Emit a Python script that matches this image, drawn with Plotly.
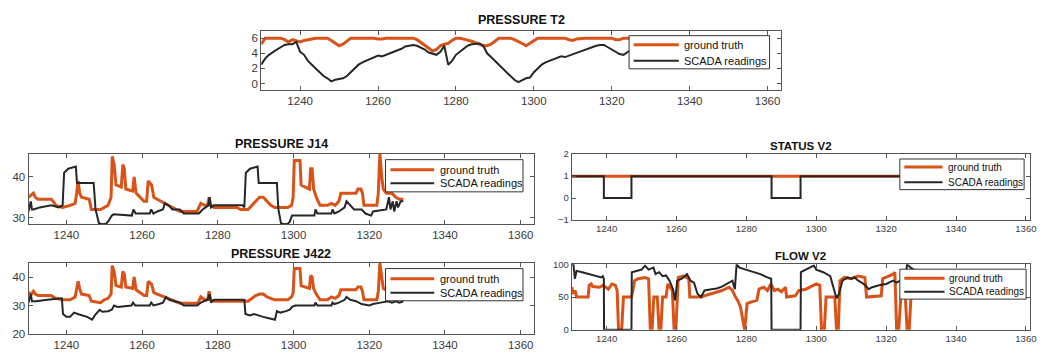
import plotly.graph_objects as go

W, H = 1051, 358

# ---------------- data ----------------
t2_x = list(range(1230, 1330))
t2_truth = [5.2,6.0,6.0,6.0,6.0,6.0,5.8,5.5,5.8,5.6,5.5,5.7,5.8,6.0,6.0,6.0,6.0,6.0,5.7,5.3,5.0,5.2,5.6,6.0,6.0,6.0,6.0,6.0,6.0,6.0,
            5.9,5.9,6.0,6.0,6.0,6.0,6.0,6.0,6.0,6.0,5.8,5.4,5.0,4.6,4.3,4.5,5.0,5.2,5.3,5.7,6.0,6.0,5.9,5.8,5.6,5.4,5.2,5.0,5.0,5.2,
            5.6,6.0,6.0,6.0,6.0,5.8,5.6,5.3,5.0,5.3,5.7,6.0,6.0,6.0,6.0,6.0,6.0,6.0,6.0,5.8,5.7,5.9,6.0,6.0,6.0,6.0,6.0,6.0,6.0,6.0,
            6.0,5.8,5.8,6.0,6.0,6.0,6.0,6.0,6.0,6.0]
t2_scada = [2.5,3.3,3.8,4.2,4.5,4.8,5.1,5.2,5.2,5.5,4.2,3.8,3.0,2.5,2.0,1.5,1.0,0.7,0.3,0.5,0.6,0.7,1.0,1.5,2.0,2.5,2.8,3.0,3.3,3.5,
            3.7,3.6,3.8,3.9,4.2,4.4,4.6,4.9,5.0,5.1,5.0,4.8,4.5,4.1,3.9,3.8,4.2,5.0,2.5,3.0,3.8,4.2,4.6,5.0,5.2,5.3,5.3,5.0,4.0,3.5,
            3.0,2.5,2.0,1.5,1.0,0.5,0.2,0.5,0.7,0.8,1.5,2.0,2.5,2.8,3.0,3.2,3.4,3.6,3.5,3.7,3.8,4.0,4.2,4.5,4.7,4.9,5.0,5.1,5.1,4.8,
            4.5,4.2,3.9,3.8,4.2,4.5,4.7,4.9,5.0,5.0]

j14_truth = [(1230,35),(1230.8,35.5),(1231.3,36),(1231.8,35),(1232.5,34.5),(1236,34.5),(1236.5,34),(1237.2,33),(1239,32.5),
             (1241,33),(1242.3,33.5),(1242.7,36),(1243.1,39),(1243.5,36),(1244,35),(1246,34.5),(1246.6,32),(1249,32),(1250,32.5),
             (1251,33),(1251.8,35),(1252.1,45),(1252.6,43),(1253.1,38),(1254.5,37.5),(1254.9,43),(1255.3,42),(1255.7,37),
             (1257.5,36.5),(1257.9,40),(1258.4,36),(1259.5,35),(1260.5,34),(1261.2,34),(1261.6,39),(1262.5,38),(1263.1,35),
             (1264,34.5),(1265,34),(1266,33.5),(1267,33),(1268,32.5),(1269,32),(1270,31.5),(1274.5,31.5),(1275,32.5),
             (1275.5,33.5),(1276.5,33),(1277.3,33),(1277.7,35),(1278.1,33),(1279,32.5),(1285,32.5),(1286,32),(1288,32),
             (1289,33),(1290,34),(1291,35),(1292,35),(1293,34),(1294,33),(1295,32.5),(1298.5,32.5),(1299.5,33),(1299.9,35),
             (1300.2,44),(1301.7,44),(1302,38),(1304.2,37),(1304.5,42),(1304.9,42),(1305.3,37),(1306,35),(1307,33),(1309,33),
             (1310,33.5),(1311,33),(1312,34),(1312.5,36),(1316.5,36),(1317,37),(1317.8,37),(1318.2,36),(1318.6,33),(1322,33),
             (1322.4,36),(1322.8,45.7),(1323.3,40),(1323.7,37),(1324.5,36),(1326,36),(1327,35),(1328,34.5),(1329,34.5)]
j14_scada = [(1230,31.5),(1230.6,34),(1230.9,32),(1231.3,32),(1233,32.5),(1236,33),(1238,32.5),(1239,33),(1239.4,41),
             (1240.5,42),(1242.5,42.5),(1242.8,38.5),(1247.2,38.5),(1247.7,32),(1248.6,28.6),(1249.5,28.4),(1250.5,28.5),
             (1251,29),(1252,30.5),(1252.5,30.8),(1257.3,30.5),(1257.7,32),(1258.3,31),(1262,31),(1262.4,32),(1263,31),
             (1264,31.5),(1265.5,32),(1266,33.5),(1267,33),(1268,32),(1270,32),(1271,31),(1275,31),(1276,32),(1277.5,33),
             (1277.8,35),(1278.2,32.5),(1279,33),(1286.5,33),(1287,32.5),(1287.4,41),(1288.5,42),(1290.5,42.5),(1290.8,38.5),
             (1295.6,38.5),(1296,32),(1296.7,28.6),(1297.5,28.4),(1298.5,28.5),(1299,29),(1299.6,30.5),(1305.5,30.5),
             (1305.8,32),(1306.3,31),(1310,31),(1310.3,32),(1310.8,31),(1312,31.5),(1313.5,32.5),(1314,34),(1315,33),
             (1316,32),(1318,32),(1319,31),(1320.5,30.5),(1321,31.5),(1324.5,32),(1325.2,35),(1325.6,32),(1326.2,34),
             (1326.6,31.5),(1327.2,34),(1327.6,32.5),(1328.3,34),(1329,34)]

j422_truth = [(1230,34.5),(1230.8,34),(1231.3,35),(1231.8,34),(1232.5,33.5),(1236,33.5),(1236.5,33),(1237.2,32.5),(1239,32),
              (1241,32),(1242.3,33),(1242.7,36),(1243.1,38.5),(1243.5,36),(1244,34),(1246,33.5),(1246.6,31.5),(1249,31),
              (1250,32),(1251,32.5),(1251.8,34),(1252.1,44),(1252.6,42),(1253.1,37),(1254.5,36.5),(1254.9,42),(1255.3,41),
              (1255.7,36.5),(1257.5,36),(1257.9,40),(1258.4,35.5),(1259.5,34.5),(1260.5,33.5),(1261.2,33.5),(1261.6,38.5),
              (1262.5,37.5),(1263.1,34.5),(1264,34),(1265,33.5),(1266,33),(1267,32.5),(1268,32),(1269,31.5),(1270,30.8),
              (1274.5,30.8),(1275,31.5),(1275.5,33),(1276.5,32),(1277.3,32),(1277.7,35),(1278.1,32),(1279,31.5),(1288,31.5),
              (1289,32.5),(1290,33.5),(1291,34),(1292,34),(1293,33),(1294,32.5),(1295,32),(1298.5,32),(1299.5,33),
              (1299.9,34.5),(1300.2,43),(1301.7,43),(1302,37),(1304.2,36),(1304.5,40.5),(1304.9,40),(1305.3,36),(1306,34),
              (1307,32),(1309,32),(1310,33),(1311,32.5),(1312,33.5),(1312.5,35.5),(1316.5,35.5),(1317,36.5),(1317.8,36.5),
              (1318.2,35),(1318.6,32),(1322,32),(1322.4,35),(1322.8,45),(1323.3,39),(1323.7,36),(1324.5,35.5),(1326,35),
              (1327,34.5),(1328,34),(1329,34)]
j422_scada = [(1230,31),(1230.6,34),(1230.9,31.5),(1232,31.5),(1235,32),(1238.8,32.5),(1239.1,27),(1240,26),(1241,26),
              (1242,27.5),(1243,27),(1244,26.5),(1245.5,26),(1246.8,25),(1247.5,26.5),(1248.8,28.5),(1249.5,27.8),(1251,28),
              (1252,28.5),(1252.6,30),(1253.5,29.5),(1257.2,30),(1257.6,31),(1258.2,30),(1262,30),(1262.4,31),(1263,30),
              (1264.5,30.5),(1265.5,31),(1266.3,33),(1267.2,32),(1268.5,31.5),(1270,31),(1271,30),(1274.5,30),(1275.5,31),
              (1277.3,32),(1277.8,34),(1278.2,31),(1279,32),(1287,32),(1287.3,27),(1288.5,26.5),(1289.5,27),(1290.5,26.5),
              (1292,26),(1293.5,25.5),(1295.1,25),(1295.6,28),(1296.5,27.5),(1298,28),(1299,28.5),(1299.6,29.5),(1300.5,30),
              (1305.5,30),(1305.8,31),(1306.3,30),(1310,30),(1310.3,31),(1310.8,30.5),(1312,31),(1313.5,32),(1314,33),
              (1315,32),(1316.5,31.5),(1318,30.5),(1320,30),(1321,30.5),(1323,31),(1325,31.5),(1326,31),(1327,31.5),
              (1328,31),(1329,31.5)]

v2_truth = [(1230,1),(1329,1)]
v2_scada = [(1230,1),(1239.2,1),(1239.2,0),(1247.1,0),(1247.1,1),(1287.2,1),(1287.2,0),(1295.5,0),(1295.5,1),(1329,1)]

flow_truth = [(1230,65),(1230.5,55),(1231,60),(1231.4,50),(1234.7,50),(1235,68),(1235.6,70),(1236,66),(1238,65),(1239,68),
              (1240.5,62),(1241.5,70),(1242.5,68),(1243,60),(1243.4,0),(1244.3,0),(1244.8,50),(1247.1,50),(1247.5,60),
              (1248,75),(1249,78),(1251,80),(1252,78),(1252.5,0),(1253,0),(1253.5,50),(1254.5,50),(1255,0),(1255.5,0),
              (1256,50),(1257,50),(1257.5,70),(1258.8,60),(1259.3,0),(1259.8,0),(1260.5,80),(1262,82),(1263.5,78),
              (1263.8,50),(1267,50),(1268,52),(1270,55),(1272,58),(1273,60),(1275,65),(1276,60),(1276.9,50),(1277.5,45),
              (1278.3,35),(1279.5,0),(1280.2,40),(1281,42),(1283,45),(1283.6,62),(1285,65),(1286,60),(1287,70),(1288,60),
              (1289,62),(1290,58),(1291.2,65),(1291.5,50),(1294,52),(1295,60),(1297,62),(1298,65),(1300,70),(1301,68),
              (1301.5,0),(1302.3,0),(1302.8,50),(1305.3,50),(1305.8,0),(1306.3,0),(1306.8,75),(1308,80),(1310,78),
              (1312,82),(1313.9,80),(1314.4,50),(1318.6,52),(1319,78),(1320.5,82),(1322,85),(1322.5,88),(1323,0),
              (1323.6,0),(1324.2,50),(1325.5,50),(1326,0),(1326.6,0),(1327.2,60),(1329,62)]
flow_scada = [(1230,100),(1230.5,100),(1230.9,78),(1231.4,90),(1233,88),(1235,85),(1237,82),(1238.5,80),(1238.9,82),
              (1239.2,78),(1239.25,0),(1247.1,0),(1247.2,88),(1248.5,90),(1250,92),(1251,98),(1252,92),(1253.4,95),
              (1254,85),(1255,88),(1256,82),(1257,83),(1258,75),(1259,62),(1259.6,45),(1260.2,75),(1261.5,78),(1263,85),
              (1264,75),(1265,72),(1266,55),(1267,50),(1268,60),(1270,62),(1271.5,63),(1273,66),(1274.5,70),(1276,75),
              (1276.7,62),(1277.2,100),(1278,95),(1280,92),(1282,88),(1284,85),(1286,80),(1287.1,78),(1287.2,0),
              (1295.5,0),(1295.6,88),(1297,92),(1298.5,95),(1299.3,98),(1300,92),(1302,88),(1304,82),(1305,65),
              (1305.8,48),(1306.5,55),(1307.5,75),(1309,80),(1310,78),(1311,80),(1312,75),(1313,72),(1314,68),(1315,62),
              (1316,65),(1318,68),(1320,70),(1322,75),(1323,72),(1324,75),(1325.5,80),(1326,100),(1327,95),(1328,92),
              (1329,90)]

TITLES = ["PRESSURE T2", "PRESSURE J14", "PRESSURE J422", "STATUS V2", "FLOW V2"]
LABELS = ["ground truth", "SCADA readings"]
XTICKS = [1240, 1260, 1280, 1300, 1320, 1340, 1360]

# ---------------- styling ----------------
ORANGE = "#D95319"
DARK = "#262626"
FONT = "Liberation Sans, Arial"

def split(pairs):
    return [p[0] for p in pairs], [p[1] for p in pairs]

series = [((t2_x, t2_truth), (t2_x, t2_scada)),
          (split(j14_truth), split(j14_scada)),
          (split(j422_truth), split(j422_scada)),
          (split(v2_truth), split(v2_scada)),
          (split(flow_truth), split(flow_scada))]

boxes = [(262.7, 785.7, 26, 86.7),
         (28.7, 537, 152.7, 225.7),
         (28.7, 537, 265.7, 339.3),
         (575, 1036, 153.3, 221.5),
         (575, 1036, 267.3, 335)]
xmax = [1363.5, 1363.5, 1363.5, 1361.2, 1361.2]
yranges = [[-0.82, 6.93], [28.4, 45.7], [20, 45], [-1, 2], [0, 100]]
ytick = [[0, 2, 4, 6], [30, 40], [20, 30, 40], [-1, 0, 1, 2], [0, 50, 100]]
fs_tick = [11.5, 11.5, 11.5, 9.5, 9.5]
fs_title = [12.5, 12.5, 12.5, 11.5, 11.5]
fs_leg = [11, 11, 11, 10, 10]
titley = [15, 143.3, 256.7, 145.3, 258.6]
legends = [((632.7, 774, 30.7, 65), 637.3, 682.7, (40, 56.7), 685.7),
           ((387.7, 526, 159, 192.3), 392.7, 436.7, (169.3, 183.3), 440.7),
           ((387.7, 526, 271.7, 305), 392.7, 436.7, (282.3, 296.7), 440.7),
           ((905, 1030, 158.3, 190), 909.5, 948, (166.7, 182.3), 951),
           ((905, 1032, 272.3, 303.3), 909.5, 950, (281.7, 295.7), 952.7)]

fig = go.Figure()
shapes, annotations = [], []
layout = dict(width=W, height=H, margin=dict(l=0, r=0, t=0, b=0), paper_bgcolor="white",
              plot_bgcolor="white", showlegend=False)
for i, ((gx, gy), (sx, sy)) in enumerate(series):
    n = "" if i == 0 else str(i + 1)
    for xs, ys, col, wdt, lab in [(gx, gy, ORANGE, 3, LABELS[0]), (sx, sy, DARK, 2, LABELS[1])]:
        fig.add_trace(go.Scatter(x=xs, y=ys, mode="lines", name=lab,
                                 line=dict(color=col, width=wdt),
                                 xaxis="x" + n, yaxis="y" + n))
    l, r, t, b = boxes[i]
    axcommon = dict(showline=True, linecolor="#555", linewidth=1, mirror="ticks", ticks="inside",
                    ticklen=4, tickcolor="#555", showgrid=False, zeroline=False,
                    tickfont=dict(family=FONT, size=fs_tick[i], color="#3a3a3a"))
    layout["xaxis" + n] = dict(domain=[l / W, r / W], anchor="y" + n, range=[1230, xmax[i]],
                               tickvals=XTICKS, **axcommon)
    layout["yaxis" + n] = dict(domain=[1 - b / H, 1 - t / H], anchor="x" + n, range=yranges[i],
                               tickvals=ytick[i], **axcommon)
    annotations.append(dict(text="<b>%s</b>" % TITLES[i], x=(l + r) / 2 / W, y=1 - titley[i] / H,
                            xref="paper", yref="paper", showarrow=False, xanchor="center",
                            yanchor="middle", font=dict(family=FONT, size=fs_title[i], color="#111")))
    (bl, br, bt, bb), sx0, sx1, rows, tx = legends[i]
    shapes.append(dict(type="rect", xref="paper", yref="paper", x0=bl / W, x1=br / W,
                       y0=1 - bb / H, y1=1 - bt / H, fillcolor="white",
                       line=dict(color="#333", width=1), layer="above"))
    for (col, wdt, lab), ry in zip([(ORANGE, 3, LABELS[0]), (DARK, 2, LABELS[1])], rows):
        shapes.append(dict(type="line", xref="paper", yref="paper", x0=sx0 / W, x1=sx1 / W,
                           y0=1 - ry / H, y1=1 - ry / H, line=dict(color=col, width=wdt), layer="above"))
        annotations.append(dict(text=lab, x=tx / W, y=1 - ry / H, xref="paper", yref="paper",
                                showarrow=False, xanchor="left", yanchor="middle",
                                font=dict(family=FONT, size=fs_leg[i], color="#111")))
layout["shapes"] = shapes
layout["annotations"] = annotations
fig.update_layout(**layout)
fig.write_html("out.html")
